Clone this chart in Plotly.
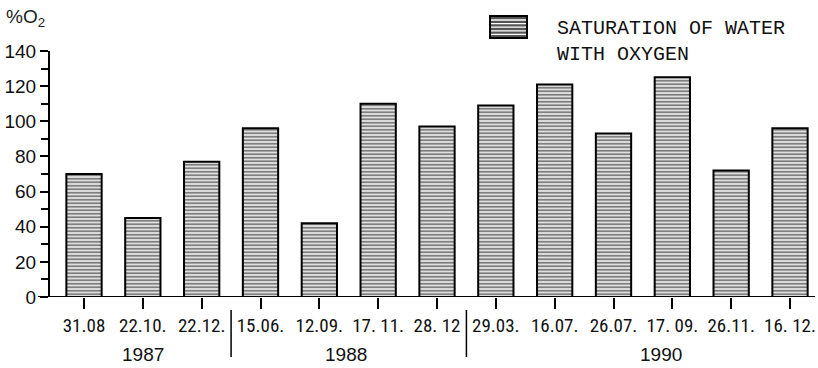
import plotly.graph_objects as go

dates = ["31.08", "22.10.", "22.12.", "15.06.", "12.09.", "17. 11.", "28. 12",
         "29.03.", "16.07.", "26.07.", "17. 09.", "26.11.", "16. 12."]
saturation = [70, 45, 77, 96, 42, 110, 97, 109, 121, 93, 125, 72, 96]
years = ["1987", "1988", "1990"]
year_centers = [1.0, 4.45, 9.8]
year_separators = [2.5, 6.5]

W, H = 818, 368
L, R, T, B = 50, 6, 51, 71
pw = W - L - R
ph = H - T - B

def px(x):
    return (x - L) / pw

def py(y):
    return (H - B - y) / ph

xs = list(range(len(dates)))

fig = go.Figure()
fig.add_trace(go.Bar(
    x=xs, y=saturation, width=0.6,
    marker=dict(color="white",
                line=dict(color="black", width=2),
                pattern=dict(shape="-", fgcolor="black", bgcolor="white",
                             size=3.5, solidity=0.62)),
    showlegend=False,
))

tick_font = dict(family="Liberation Sans Narrow, Roboto Condensed, Liberation Sans, Arial", size=19, color="#111")

fig.update_layout(
    width=W, height=H,
    margin=dict(l=L, r=R, t=T, b=B),
    plot_bgcolor="white", paper_bgcolor="white",
    xaxis=dict(range=[-0.578, 12.374], tickmode="array", tickvals=xs, ticktext=dates,
               ticks="outside", ticklen=11, tickwidth=1.5, tickcolor="black",
               showline=False, showgrid=False, zeroline=False, automargin=False,
               tickfont=tick_font),
    yaxis=dict(range=[0, 140], tickmode="linear", tick0=0, dtick=20,
               ticks="outside", ticklen=8, tickwidth=1.5, tickcolor="black",
               showline=True, linecolor="black", linewidth=2,
               showgrid=False, zeroline=False, automargin=False,
               minor=dict(dtick=10, ticks="outside", ticklen=7, tickwidth=1.5, tickcolor="black"),
               tickfont=dict(family="Liberation Sans, Arial", size=19, color="#111")),
)

# baseline extending past the y axis
fig.add_shape(type="line", xref="paper", yref="y", x0=px(38), x1=px(815), y0=0, y1=0,
              line=dict(color="black", width=2))

# year separators
for s in year_separators:
    fig.add_shape(type="line", xref="x", yref="paper", x0=s, x1=s, y0=py(310), y1=py(357),
                  line=dict(color="black", width=1.5))

# year labels
for yr, c in zip(years, year_centers):
    fig.add_annotation(x=c, y=py(354), xref="x", yref="paper", text=yr, showarrow=False,
                       xanchor="center", yanchor="middle",
                       font=dict(family="Liberation Sans Narrow, Liberation Sans", size=19, color="#111"))

# y-axis unit
fig.add_annotation(x=px(4), y=py(18), xref="paper", yref="paper", text="%O<sub>2</sub>",
                   showarrow=False, xanchor="left", yanchor="middle",
                   font=dict(family="Liberation Sans, Arial", size=19, color="#222"))

# legend box with stripes
bx0, bx1, by0, by1 = 490, 527, 16, 38
fig.add_shape(type="rect", xref="paper", yref="paper", x0=px(bx0), x1=px(bx1), y0=py(by1), y1=py(by0),
              line=dict(color="black", width=2), fillcolor="#555555")
path = ""
for k in range(5):
    yy = py(by0 + 4 + k * 3.6)
    path += f"M{px(bx0 + 1)},{yy} L{px(bx1 - 1)},{yy} "
fig.add_shape(type="path", xref="paper", yref="paper", path=path,
              line=dict(color="white", width=1.3))

fig.add_annotation(x=px(555), y=py(15), xref="paper", yref="paper",
                   text="SATURATION OF WATER<br>WITH OXYGEN", showarrow=False,
                   xanchor="left", yanchor="top", align="left",
                   font=dict(family="Courier New, Liberation Mono, monospace", size=20, color="#111"))

fig.write_html("out.html", config={"displayModeBar": False},
               post_script="document.body.style.margin='0';document.body.style.padding='0';document.body.style.overflow='hidden';")
